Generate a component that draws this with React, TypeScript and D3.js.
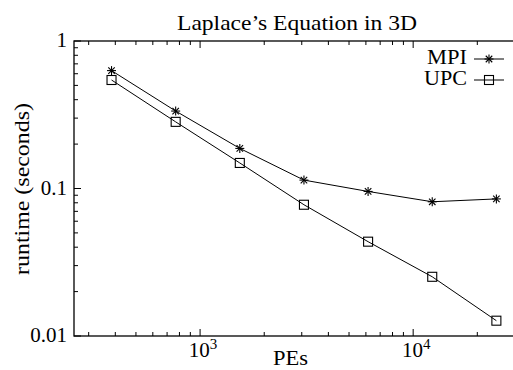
import React, { useEffect, useRef } from "react";
import * as d3 from "d3";

// Chart data
const pes = [384, 768, 1536, 3072, 6144, 12288, 24576];
const mpiTimes = [0.63, 0.335, 0.187, 0.114, 0.0955, 0.0813, 0.085];
const upcTimes = [0.544, 0.283, 0.149, 0.0776, 0.0436, 0.0252, 0.0127];
const seriesNames = ["MPI", "UPC"];
const yTickValues = [1, 0.1, 0.01];
const yTickLabels = ["1", "0.1", "0.01"];
const xMajorTicks = [1000, 10000];
const xMajorExponents = ["3", "4"];

const W = 513;
const H = 370;
const margin = { top: 41, right: -10, bottom: 34, left: 74 };
const font = "'Liberation Serif', 'DejaVu Serif', serif";
const fs = "21px";

export default function App() {
  const ref = useRef<SVGSVGElement>(null);

  useEffect(() => {
    const svg = d3.select(ref.current).html("");
    const x0 = margin.left;
    const x1 = W - margin.right;
    const y0 = margin.top;
    const y1 = H - margin.bottom;

    const x = d3.scaleLog().domain([256, 32768]).range([x0, x1]);
    const y = d3.scaleLog().domain([0.01, 1]).range([y1, y0]);

    const g = svg.append("g").attr("font-family", font);

    // minor ticks
    const xMinor: number[] = [];
    for (let e = 2; e <= 4; e++) {
      for (let m = 1; m <= 9; m++) {
        const v = m * Math.pow(10, e);
        if (v >= 256 && v <= 32768) xMinor.push(v);
      }
    }
    const yMinor: number[] = [];
    for (let e = -2; e <= -1; e++) {
      for (let m = 1; m <= 9; m++) yMinor.push(m * Math.pow(10, e));
    }

    const tickLen = (major: boolean) => (major ? 7 : 4);

    xMinor.forEach((v) => {
      const major = xMajorTicks.includes(v);
      const px = x(v);
      g.append("line").attr("x1", px).attr("x2", px).attr("y1", y1).attr("y2", y1 - tickLen(major))
        .attr("stroke", "#000").attr("stroke-width", 1);
      g.append("line").attr("x1", px).attr("x2", px).attr("y1", y0).attr("y2", y0 + tickLen(major))
        .attr("stroke", "#000").attr("stroke-width", 1);
    });
    yMinor.concat([1]).forEach((v) => {
      const major = yTickValues.includes(v);
      const py = y(v);
      g.append("line").attr("x1", x0).attr("x2", x0 + tickLen(major)).attr("y1", py).attr("y2", py)
        .attr("stroke", "#000").attr("stroke-width", 1);
      g.append("line").attr("x1", x1).attr("x2", x1 - tickLen(major)).attr("y1", py).attr("y2", py)
        .attr("stroke", "#000").attr("stroke-width", 1);
    });

    // frame
    g.append("rect").attr("x", x0).attr("y", y0).attr("width", x1 - x0).attr("height", y1 - y0)
      .attr("fill", "none").attr("stroke", "#000").attr("stroke-width", 1.3);

    // y tick labels
    yTickValues.forEach((v, i) => {
      g.append("text").attr("x", x0 - 7).attr("y", y(v) + 6).attr("text-anchor", "end")
        .attr("font-size", fs).text(yTickLabels[i]);
    });

    // x tick labels (10^n)
    xMajorTicks.forEach((v, i) => {
      const t = g.append("text").attr("x", x(v) + 3).attr("y", y1 + 21).attr("text-anchor", "middle")
        .attr("font-size", fs);
      t.append("tspan").text("10");
      t.append("tspan").attr("dy", -8).attr("font-size", "15px").text(xMajorExponents[i]);
    });

    // axis titles (stretched slightly to the reference's wider face)
    const stretched = (sel: any, len: number) =>
      sel.attr("textLength", len).attr("lengthAdjust", "spacingAndGlyphs");

    stretched(g.append("text").attr("x", 273).attr("y", H - 5).attr("font-size", fs), 35).text("PEs");
    stretched(
      g.append("text").attr("transform", `translate(29,275) rotate(-90)`).attr("font-size", fs),
      172
    ).text("runtime (seconds)");
    stretched(g.append("text").attr("x", 177).attr("y", 30).attr("font-size", fs), 240)
      .text("Laplace\u2019s Equation in 3D");

    const line = d3.line<number>().x((_, i) => x(pes[i])).y((d) => y(d));

    const drawStar = (sel: any, cx: number, cy: number) => {
      const r = 4.5;
      const d = r * 0.72;
      const p = sel.append("g").attr("transform", `translate(${cx},${cy})`);
      p.append("line").attr("x1", -r).attr("x2", r).attr("y1", 0).attr("y2", 0);
      p.append("line").attr("x1", 0).attr("x2", 0).attr("y1", -r).attr("y2", r);
      p.append("line").attr("x1", -d).attr("x2", d).attr("y1", -d).attr("y2", d);
      p.append("line").attr("x1", -d).attr("x2", d).attr("y1", d).attr("y2", -d);
      p.selectAll("line").attr("stroke", "#000").attr("stroke-width", 1.1);
    };
    const drawSquare = (sel: any, cx: number, cy: number) => {
      sel.append("rect").attr("x", cx - 4.5).attr("y", cy - 4.5).attr("width", 9).attr("height", 9)
        .attr("fill", "none").attr("stroke", "#000").attr("stroke-width", 1.1);
    };

    const series = [
      { name: seriesNames[0], values: mpiTimes, marker: drawStar, textW: 40 },
      { name: seriesNames[1], values: upcTimes, marker: drawSquare, textW: 43 },
    ];

    series.forEach((s, si) => {
      g.append("path").datum(s.values).attr("d", line).attr("fill", "none")
        .attr("stroke", "#000").attr("stroke-width", 1);
      s.values.forEach((v, i) => s.marker(g, x(pes[i]), y(v)));

      // legend
      const ly = 59 + si * 21;
      stretched(
        g.append("text").attr("x", 467 - s.textW).attr("y", ly + 5).attr("font-size", "20px"),
        s.textW
      ).text(s.name);
      g.append("line").attr("x1", 474).attr("x2", 504).attr("y1", ly).attr("y2", ly)
        .attr("stroke", "#000").attr("stroke-width", 1);
      s.marker(g, 489, ly);
    });
  }, []);

  return (
    <svg
      ref={ref}
      width={W}
      height={H}
      style={{ position: "absolute", left: 0, top: 0, background: "#fff", overflow: "hidden" }}
    />
  );
}
